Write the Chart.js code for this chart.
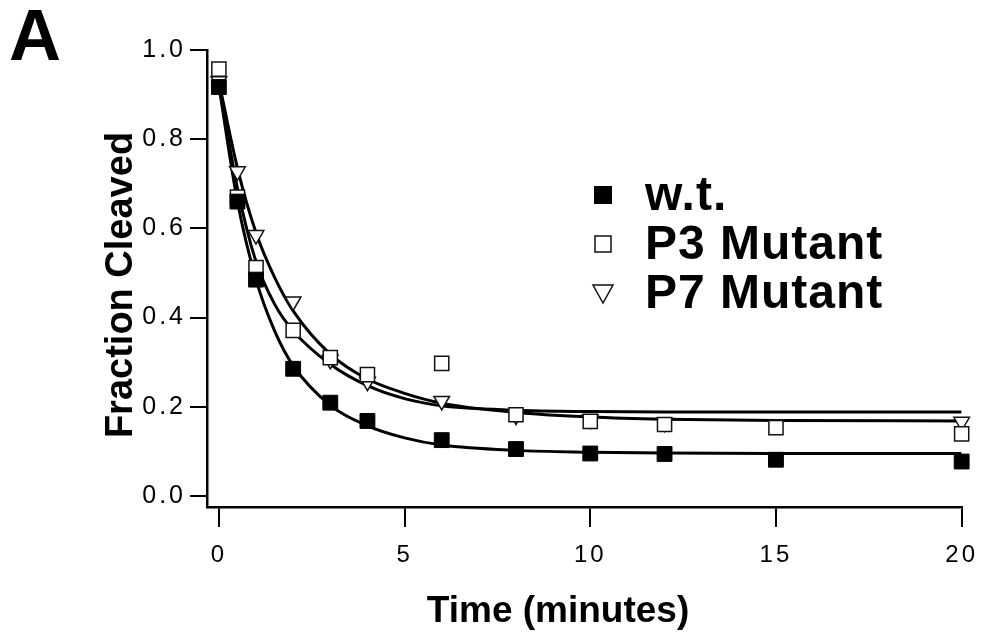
<!DOCTYPE html>
<html>
<head>
<meta charset="utf-8">
<script src="https://cdn.jsdelivr.net/npm/chart.js@4.4.1/dist/chart.umd.min.js"></script>
<style>
  html, body { margin: 0; padding: 0; background: #fff; }
  #wrap { width: 989px; height: 641px; }
</style>
</head>
<body>
<div id="wrap"><canvas id="cleaveChart" width="989" height="641"></canvas></div>
<script>
// Measured points (time in minutes)
const times = [0, 0.5, 1, 2, 3, 4, 6, 8, 10, 12, 15, 20];
const wtValues = [0.917, 0.66, 0.485, 0.285, 0.209, 0.168, 0.125, 0.105, 0.095, 0.094, 0.081, 0.077];
const p3Values = [0.957, 0.67, 0.512, 0.371, 0.31, 0.272, 0.297, 0.182, 0.167, 0.16, 0.153, 0.139];
const p7Values = [0.93, 0.728, 0.585, 0.436, 0.305, 0.256, 0.213, 0.18, 0.171, 0.164, 0.16, 0.166];

// Fitted curves
const fitTimes = [0, 0.5, 1, 1.5, 2, 3, 4, 5, 6, 8, 10, 12, 15, 20];
const wtFit = [0.92, 0.66, 0.485, 0.37, 0.292, 0.203, 0.157, 0.13, 0.114, 0.102, 0.098, 0.096, 0.095, 0.095];
const p3Fit = [0.925, 0.69, 0.525, 0.43, 0.37, 0.295, 0.247, 0.218, 0.202, 0.192, 0.189, 0.188, 0.188, 0.188];
const p7Fit = [0.93, 0.735, 0.59, 0.49, 0.415, 0.318, 0.262, 0.23, 0.208, 0.187, 0.177, 0.172, 0.169, 0.168];

const seriesNames = ['w.t.', 'P3 Mutant', 'P7 Mutant'];
const xTicks = [0, 5, 10, 15, 20];
const xTickLabels = ['0', '5', '10', '15', '20'];
const yTicks = [0, 0.2, 0.4, 0.6, 0.8, 1.0];
const yTickLabels = ['0.0', '0.2', '0.4', '0.6', '0.8', '1.0'];

const FONT = "'Liberation Sans', Arial, Helvetica, sans-serif";

const pairs = (xs, ys) => xs.map((x, i) => ({ x: x, y: ys[i] }));

const pointSet = (label, ys, style) => Object.assign({
    label: label,
    data: pairs(times, ys),
    showLine: false,
    order: 1,
    clip: false
}, style);

const curveSet = (label, ys) => ({
    label: label + ' fit',
    data: pairs(fitTimes, ys),
    showLine: true,
    borderColor: '#000',
    borderWidth: 3,
    pointRadius: 0,
    cubicInterpolationMode: 'monotone',
    order: 10
});

const markerStyles = [
    { pointStyle: 'rect', pointRadius: 10.5, backgroundColor: '#000', borderColor: '#000', borderWidth: 1 },
    { pointStyle: 'rect', pointRadius: 10, backgroundColor: '#fff', borderColor: '#111', borderWidth: 1.5 },
    { pointStyle: 'triangle', pointRadius: 9, rotation: 180, backgroundColor: '#fff', borderColor: '#111', borderWidth: 1.5 }
];

// Legend, panel letter and axis titles
const decorations = {
    id: 'decorations',
    beforeDraw(chart) {
        chart.ctx.letterSpacing = '3px';
    },
    beforeDatasetsDraw(chart) {
        chart.ctx.letterSpacing = '0px';
    },
    afterDraw(chart) {
        const ctx = chart.ctx;
        ctx.save();
        ctx.letterSpacing = '0px';
        ctx.fillStyle = '#000';

        ctx.font = 'bold 72px ' + FONT;
        ctx.textBaseline = 'alphabetic';
        ctx.textAlign = 'left';
        ctx.fillText('A', 9, 60);

        ctx.font = 'bold 37px ' + FONT;
        ctx.textAlign = 'center';
        ctx.textBaseline = 'middle';
        ctx.fillText('Time (minutes)', 558, 612);

        ctx.font = 'bold 38px ' + FONT;
        ctx.save();
        ctx.translate(122, 285);
        ctx.rotate(-Math.PI / 2);
        ctx.fillText('Fraction Cleaved', 0, 0);
        ctx.restore();

        // legend
        const rows = [195, 244, 293];
        ctx.font = 'bold 48px ' + FONT;
        ctx.letterSpacing = '1px';
        ctx.textAlign = 'left';
        seriesNames.forEach((name, i) => {
            const y = rows[i];
            const cx = 603;
            ctx.lineWidth = 1.5;
            ctx.strokeStyle = '#111';
            if (i === 0) {
                ctx.fillStyle = '#000';
                ctx.fillRect(cx - 9, y - 9, 18, 18);
            } else if (i === 1) {
                ctx.fillStyle = '#fff';
                ctx.fillRect(cx - 8, y - 8, 16, 16);
                ctx.strokeRect(cx - 8, y - 8, 16, 16);
            } else {
                ctx.beginPath();
                ctx.moveTo(cx - 10, y - 8);
                ctx.lineTo(cx + 10, y - 8);
                ctx.lineTo(cx, y + 10);
                ctx.closePath();
                ctx.fillStyle = '#fff';
                ctx.fill();
                ctx.stroke();
            }
            ctx.fillStyle = '#000';
            ctx.fillText(name, 645, y + 2);
        });
        ctx.restore();
    }
};

const ctx = document.getElementById('cleaveChart').getContext('2d');
const cleaveChart = new Chart(ctx, {
    type: 'scatter',
    data: {
        datasets: [
            pointSet(seriesNames[0], wtValues, markerStyles[0]),
            pointSet(seriesNames[1], p3Values, markerStyles[1]),
            pointSet(seriesNames[2], p7Values, markerStyles[2]),
            curveSet(seriesNames[0], wtFit),
            curveSet(seriesNames[1], p3Fit),
            curveSet(seriesNames[2], p7Fit)
        ]
    },
    options: {
        responsive: false,
        animation: false,
        devicePixelRatio: 1,
        layout: { padding: { top: 50, right: 22, left: 0, bottom: 0 } },
        plugins: {
            legend: { display: false },
            tooltip: { enabled: false }
        },
        scales: {
            x: {
                type: 'linear',
                min: -0.32,
                max: 20,
                afterBuildTicks: scale => { scale.ticks = xTicks.map(v => ({ value: v })); },
                afterFit: scale => { scale.height = 134; },
                ticks: {
                    color: '#000',
                    font: { family: FONT, size: 24 },
                    padding: 14,
                    maxRotation: 0,
                    callback: (value, index) => xTickLabels[index]
                },
                grid: { drawOnChartArea: false, drawTicks: true, tickLength: 20, color: '#000', lineWidth: 2 },
                border: { display: true, color: '#000', width: 2.5 }
            },
            y: {
                type: 'linear',
                min: -0.025,
                max: 1.0,
                afterBuildTicks: scale => { scale.ticks = yTicks.map(v => ({ value: v })); },
                afterFit: scale => { scale.width = 207; },
                ticks: {
                    color: '#000',
                    font: { family: FONT, size: 25 },
                    padding: 4,
                    callback: (value, index) => yTickLabels[index]
                },
                grid: { drawOnChartArea: false, drawTicks: true, tickLength: 17, color: '#000', lineWidth: 2 },
                border: { display: true, color: '#000', width: 2.5 }
            }
        }
    },
    plugins: [decorations]
});
</script>
</body>
</html>
